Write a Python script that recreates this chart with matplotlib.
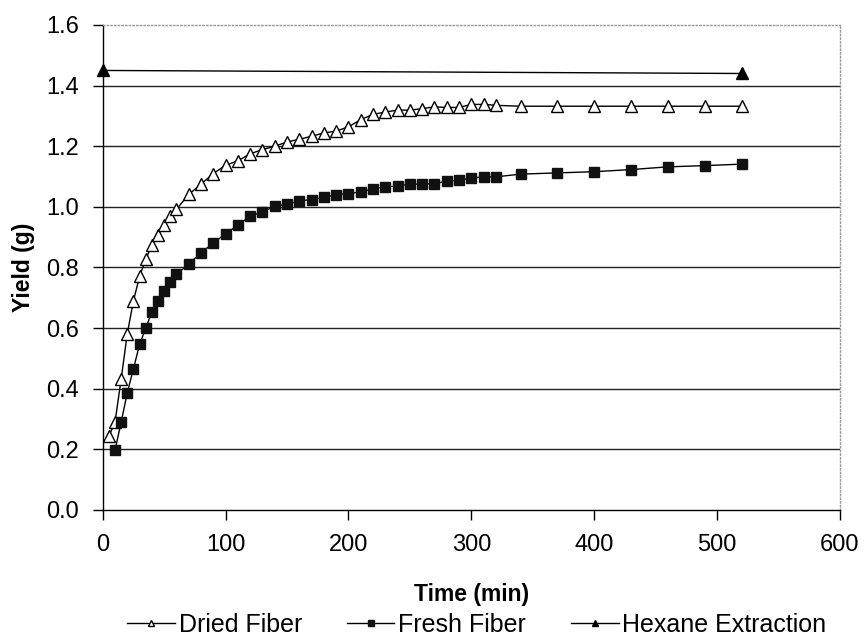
import matplotlib
matplotlib.use("Agg")
import matplotlib.pyplot as plt

plt.rcParams['font.family'] = ['Liberation Sans', 'DejaVu Sans']

# dried fiber (min, g)
dried_t = [5, 10, 15, 20, 25, 30, 35, 40, 45, 50, 55, 60, 70, 80, 90, 100, 110, 120,
           130, 140, 150, 160, 170, 180, 190, 200, 210, 220, 230, 240, 250, 260, 270,
           280, 290, 300, 310, 320, 340, 370, 400, 430, 460, 490, 520]
dried_y = [0.243, 0.29, 0.432, 0.582, 0.69, 0.771, 0.827, 0.873, 0.906, 0.939, 0.97, 0.992,
           1.041, 1.075, 1.11, 1.137, 1.152, 1.175, 1.189, 1.2, 1.214, 1.223, 1.233, 1.244,
           1.25, 1.264, 1.288, 1.305, 1.313, 1.319, 1.319, 1.324, 1.33, 1.328, 1.328, 1.338,
           1.338, 1.335, 1.332, 1.332, 1.332, 1.332, 1.332, 1.332, 1.332]

# fresh fiber (min, g)
fresh_t = [10, 15, 20, 25, 30, 35, 40, 45, 50, 55, 60, 70, 80, 90, 100, 110, 120,
           130, 140, 150, 160, 170, 180, 190, 200, 210, 220, 230, 240, 250, 260, 270,
           280, 290, 300, 310, 320, 340, 370, 400, 430, 460, 490, 520]
fresh_y = [0.197, 0.29, 0.387, 0.466, 0.546, 0.6, 0.653, 0.688, 0.722, 0.751, 0.778,
           0.811, 0.849, 0.88, 0.912, 0.939, 0.97, 0.983, 1.003, 1.008, 1.02, 1.024, 1.031,
           1.04, 1.044, 1.049, 1.06, 1.066, 1.069, 1.075, 1.075, 1.077, 1.084, 1.088,
           1.095, 1.099, 1.099, 1.108, 1.112, 1.116, 1.123, 1.132, 1.136, 1.141]

# hexane extraction
hex_t = [0, 520]
hex_y = [1.45, 1.44]

fig = plt.figure(figsize=(8.64, 6.39), dpi=100)
ax = fig.add_axes([0.1189, 0.2019, 0.8533, 0.759])

for yv in [0.2, 0.4, 0.6, 0.8, 1.0, 1.2, 1.4]:
    ax.axhline(yv, color='#222222', lw=1.0, zorder=1)

ax.plot(dried_t, dried_y, color='black', lw=1.0, marker='^', ms=8, mfc='white',
        mec='black', mew=1.0, label='Dried Fiber', zorder=3)
ax.plot(fresh_t, fresh_y, color='black', lw=1.0, marker='s', ms=7, mfc='#111111',
        mec='#111111', label='Fresh Fiber', zorder=3)
ax.plot(hex_t, hex_y, color='black', lw=1.0, marker='^', ms=8, mfc='black',
        mec='black', label='Hexane Extraction', zorder=3, clip_on=False)

ax.set_xlim(0, 600)
ax.set_ylim(0, 1.6)
ax.set_xticks([0, 100, 200, 300, 400, 500, 600])
ax.set_yticks([0.0, 0.2, 0.4, 0.6, 0.8, 1.0, 1.2, 1.4, 1.6])
ax.set_yticklabels([f'{v:.1f}' for v in ax.get_yticks()])
ax.tick_params(direction='out', length=7, width=1, labelsize=17, color='black')
ax.tick_params(axis='x', pad=10)
ax.tick_params(axis='y', pad=10)

for s in ['top', 'right']:
    ax.spines[s].set_color('#999999')
    ax.spines[s].set_linestyle(':')
    ax.spines[s].set_linewidth(1.0)
for s in ['left', 'bottom']:
    ax.spines[s].set_color('black')
    ax.spines[s].set_linewidth(1.0)

ax.set_xlabel('Time (min)', fontsize=16.5, fontweight='bold', labelpad=20)
ax.set_ylabel('Yield (g)', fontsize=16.5, fontweight='bold', labelpad=8)

handles, labels = ax.get_legend_handles_labels()
leg = fig.legend(handles, labels, loc='center', bbox_to_anchor=(0.552, 0.022), ncol=3,
                 frameon=False, fontsize=18, markerscale=0.6, handlelength=1.9,
                 handletextpad=0.15, columnspacing=1.8)

fig.savefig('out.png', dpi=100)
